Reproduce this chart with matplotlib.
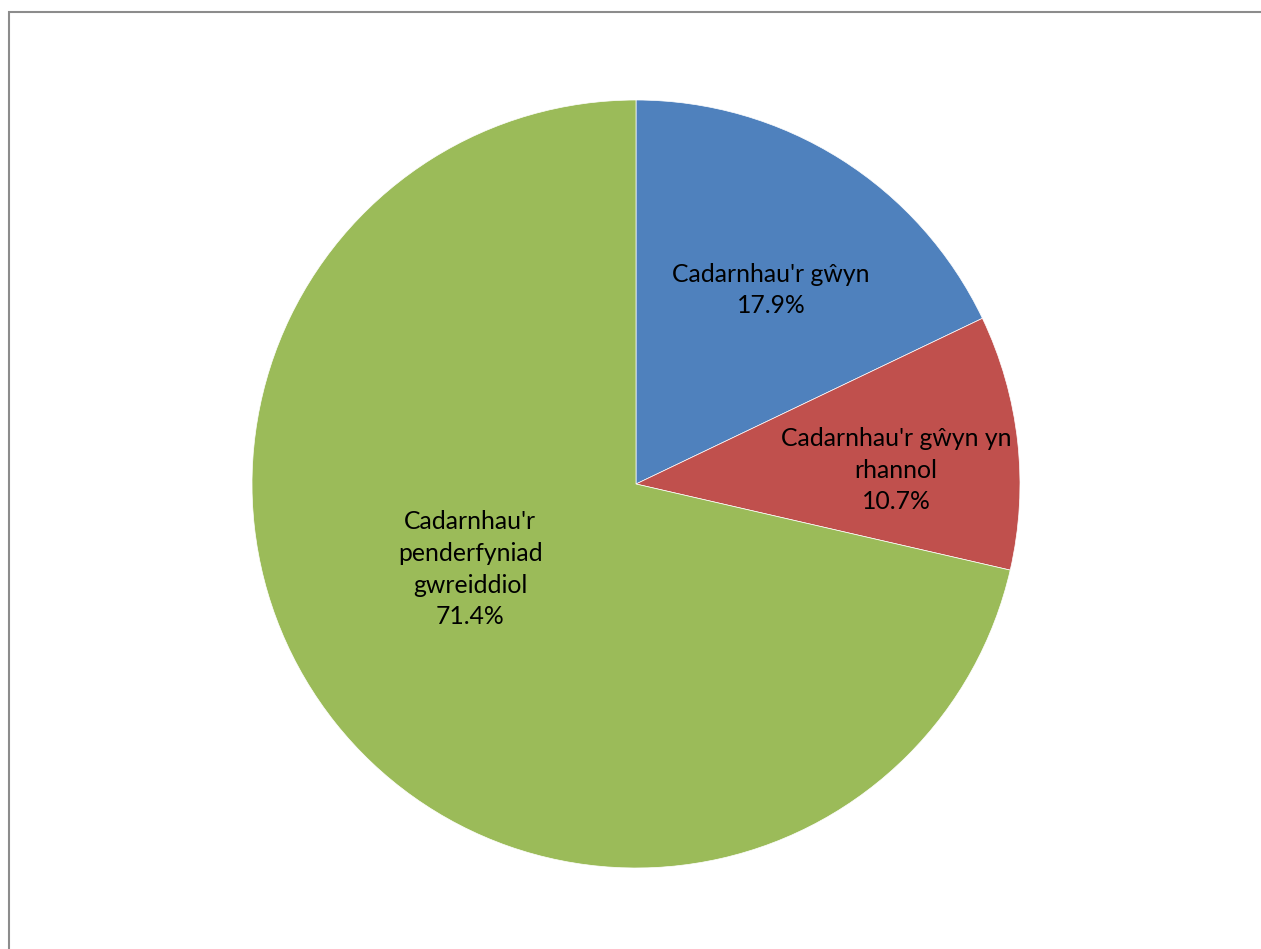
import matplotlib
matplotlib.use("Agg")
import matplotlib.pyplot as plt
from matplotlib.patches import Rectangle

# data
labels = ["Cadarnhau'r gŵyn", "Cadarnhau'r gŵyn yn\nrhannol", "Cadarnhau'r\npenderfyniad\ngwreiddiol"]
values = [17.9, 10.7, 71.4]
colors = ["#4F81BD", "#C0504D", "#9BBB59"]
# label positions (axes data units, pie radius = 1)
label_pos = [(0.352, 0.505), (0.677, 0.036), (-0.432, -0.222)]

plt.rcParams['font.family'] = ['Lato', 'DejaVu Sans']

W, H = 1261, 949
fig = plt.figure(figsize=(W / 100, H / 100), dpi=100)

# outer chart frame (runs off the right and bottom edges)
fig.patches.append(Rectangle((9 / W, -0.05), 1.1, 1 - 12 / H + 0.05,
                             transform=fig.transFigure, fill=False,
                             edgecolor="#8c8c8c", linewidth=1.5))

ax = fig.add_axes([252 / W, 81 / H, 768 / W, 768 / H])
ax.pie(values, colors=colors, startangle=90, counterclock=False, radius=1,
       wedgeprops=dict(linewidth=0.5, edgecolor="white"))
ax.set_xlim(-1, 1); ax.set_ylim(-1, 1)
ax.set_aspect("equal")
ax.axis("off")

for lab, v, (x, y) in zip(labels, values, label_pos):
    ax.text(x, y, f"{lab}\n{v:.1f}%", ha="center", va="center",
            fontsize=17.8, color="black", linespacing=1.45)

fig.savefig("out.png", dpi=100)
